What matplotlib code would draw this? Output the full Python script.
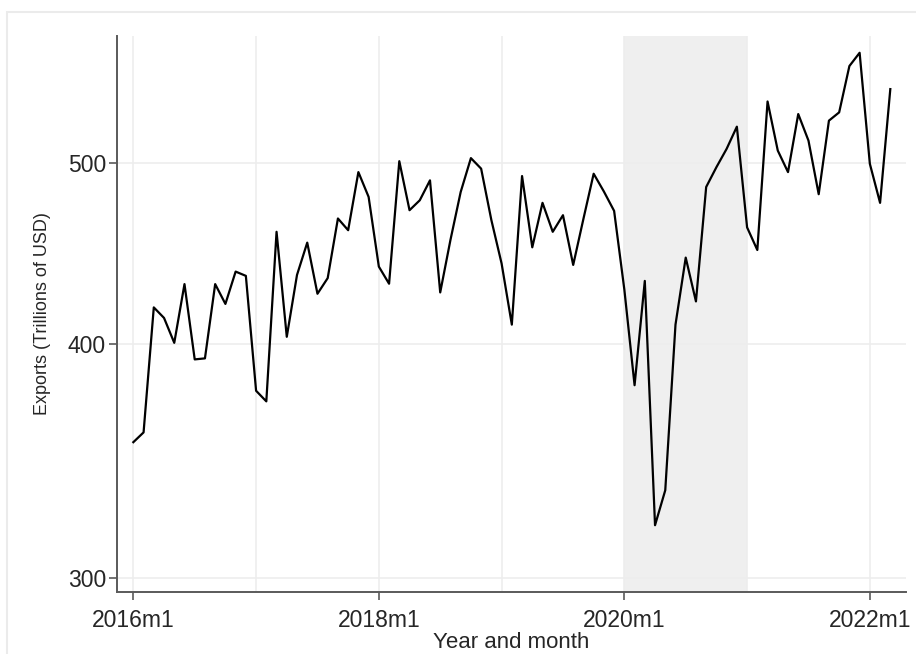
"""Monthly exports on a log axis with the 2020 shock shaded (Stata-style look)."""

import matplotlib

matplotlib.use("Agg")
import matplotlib.pyplot as plt
import numpy as np
from matplotlib.patches import Rectangle
from matplotlib.ticker import NullLocator


START = "2016m1"
EXPORTS = [
    354.6, 358.9, 418.7, 413.3, 400.8, 430.9, 392.7, 393.2, 430.9, 420.5, 437.6, 435.3,
    377.8, 372.9, 459.6, 403.8, 435.8, 453.5, 425.8, 434.1, 467.2, 460.5, 494.7, 479.8,
    440.3, 431.1, 501.4, 472.0, 477.8, 489.7, 426.5, 455.0, 482.7, 503.3, 496.8, 466.3,
    442.0, 409.9, 492.3, 450.9, 476.3, 459.6, 469.1, 441.2, 467.0, 493.7, 483.0, 471.6,
    428.0, 380.4, 432.6, 320.1, 334.2, 409.9, 445.2, 421.8, 485.7, 497.7, 509.1, 523.2,
    462.1, 449.4, 539.7, 508.0, 494.7, 531.4, 514.3, 481.4, 527.1, 532.5, 563.8, 573.1,
    499.8, 476.3, 548.0,
]
X_TICKS = ["2016m1", "2018m1", "2020m1", "2022m1"]
X_GRID = ["2016m1", "2017m1", "2018m1", "2019m1", "2020m1", "2021m1", "2022m1"]
Y_TICKS = [300, 400, 500]
SHADE = ("2020m1", "2021m1")

TEXT = "#262626"
AXIS = "#5a5a5a"
GRID = "#ededed"
FONT = "Liberation Sans"


def month_index(label: str) -> int:
    """Months since START for a Stata-like 'YYYYmM' label."""
    y, m = label.split("m")
    y0, m0 = START.split("m")
    return (int(y) - int(y0)) * 12 + int(m) - int(m0)


plt.rcParams["font.family"] = [FONT, "DejaVu Sans"]

fig = plt.figure(figsize=(9.16, 6.54), dpi=100)
fig.patches.append(Rectangle((0.0076, -0.05), 1.2, 1.0317, transform=fig.transFigure,
                             fill=False, edgecolor="#ebebeb", linewidth=1.5))
ax = fig.add_axes([0.1277, 0.0948, 0.861, 0.850])

x = np.arange(len(EXPORTS))
ax.axvspan(month_index(SHADE[0]), month_index(SHADE[1]), color="#efefef", linewidth=0, zorder=0)
ax.plot(x, EXPORTS, color="black", linewidth=1.6, zorder=3)

ax.set_yscale("log")
ax.set_ylim(294.8, 585.0)
ax.set_xlim(-1.6, 75.5)

ax.set_yticks(Y_TICKS)
ax.set_yticklabels([str(v) for v in Y_TICKS])
ax.yaxis.set_minor_locator(NullLocator())
ax.set_xticks([month_index(t) for t in X_TICKS])
ax.set_xticklabels(X_TICKS)

for g in X_GRID:
    ax.axvline(month_index(g), color=GRID, linewidth=1.2, zorder=1)
for v in Y_TICKS:
    ax.axhline(v, color=GRID, linewidth=1.2, zorder=1)

for side in ("top", "right"):
    ax.spines[side].set_visible(False)
for side in ("left", "bottom"):
    ax.spines[side].set_color(AXIS)
    ax.spines[side].set_linewidth(1.4)

ax.tick_params(axis="both", colors=AXIS, length=6, width=1.2, labelcolor=TEXT, labelsize=16.5)
ax.tick_params(axis="y", pad=2)
ax.tick_params(axis="x", pad=6)

ax.set_xlabel("Year and month", fontsize=16, color=TEXT, labelpad=0)
ax.set_ylabel("Exports (Trillions of USD)", fontsize=13, color=TEXT, labelpad=12)

fig.savefig("out.png", dpi=100, facecolor="white")
